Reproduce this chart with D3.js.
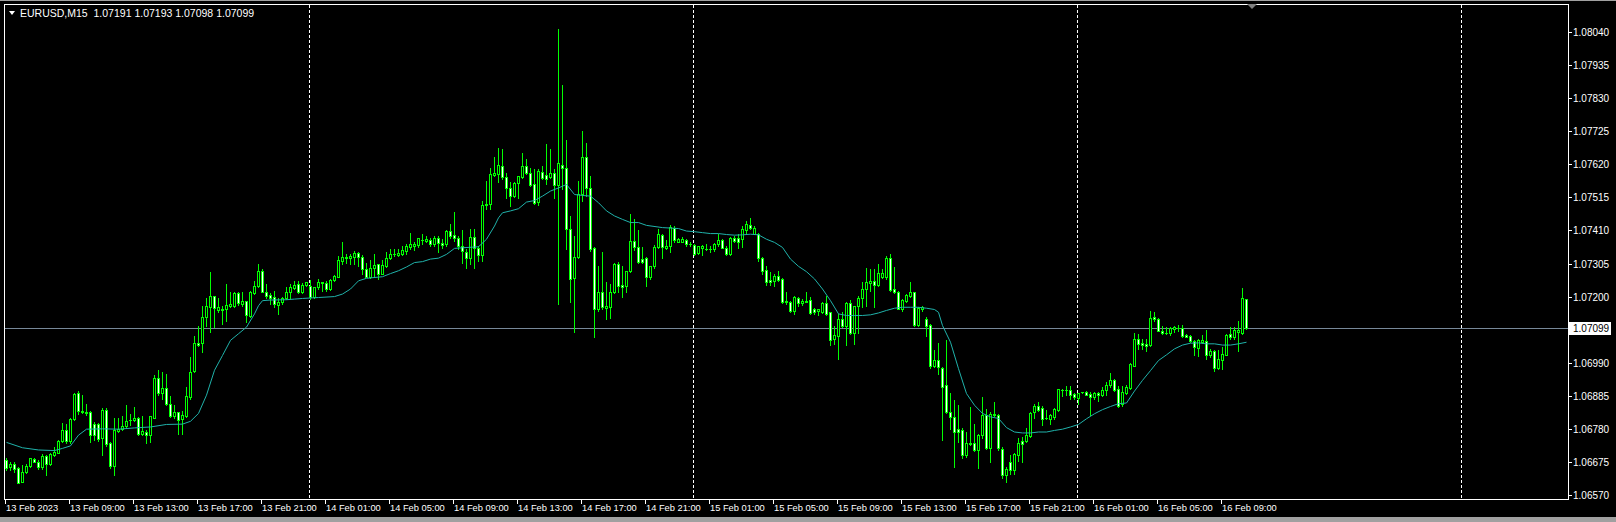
<!DOCTYPE html>
<html>
<head>
<meta charset="utf-8">
<script src="https://cdn.jsdelivr.net/npm/d3@7"></script>
<style>
  html, body { margin: 0; padding: 0; background: #000; overflow: hidden; }
  svg { display: block; }
  text { font-family: "Liberation Sans", Arial, sans-serif; font-size: 10px; fill: #fff; white-space: pre; }
</style>
</head>
<body>
<svg id="chart" width="1616" height="522"></svg>
<script>
// EURUSD M15, first visible bar 13 Feb 2023 05:00
const title = "EURUSD,M15  1.07191 1.07193 1.07098 1.07099";

const open = [1.06681,1.06658,1.06668,1.06657,1.06612,1.06644,1.06663,1.06685,1.06676,1.06660,1.06695,1.06668,1.06697,1.06704,1.06741,1.06777,1.06741,1.06812,1.06893,1.06837,
1.06832,1.06834,1.06795,1.06797,1.06750,1.06841,1.06734,1.06663,1.06773,1.06779,1.06789,1.06809,1.06809,1.06815,1.06763,1.06771,1.06760,1.06816,1.06943,1.06893,
1.06910,1.06859,1.06821,1.06832,1.06810,1.06821,1.06881,1.06963,1.07053,1.07052,1.07134,1.07166,1.07201,1.07158,1.07156,1.07159,1.07171,1.07171,1.07211,1.07178,
1.07185,1.07138,1.07212,1.07234,1.07280,1.07213,1.07204,1.07199,1.07174,1.07184,1.07197,1.07213,1.07227,1.07240,1.07213,1.07237,1.07234,1.07199,1.07229,1.07245,
1.07242,1.07224,1.07254,1.07263,1.07313,1.07326,1.07321,1.07326,1.07337,1.07327,1.07287,1.07263,1.07290,1.07302,1.07273,1.07297,1.07324,1.07334,1.07332,1.07336,
1.07345,1.07358,1.07361,1.07363,1.07381,1.07377,1.07379,1.07366,1.07387,1.07371,1.07366,1.07407,1.07395,1.07387,1.07361,1.07343,1.07322,1.07390,1.07355,1.07332,
1.07490,1.07493,1.07585,1.07590,1.07616,1.07580,1.07545,1.07519,1.07561,1.07580,1.07616,1.07593,1.07556,1.07500,1.07595,1.07585,1.07580,1.07591,1.07554,1.07619,
1.07609,1.07414,1.07258,1.07327,1.07527,1.07644,1.07545,1.07353,1.07161,1.07213,1.07165,1.07166,1.07215,1.07305,1.07237,1.07234,1.07280,1.07375,1.07356,1.07319,
1.07321,1.07261,1.07296,1.07358,1.07395,1.07354,1.07361,1.07419,1.07374,1.07374,1.07380,1.07367,1.07365,1.07337,1.07353,1.07351,1.07350,1.07350,1.07368,1.07380,
1.07355,1.07336,1.07386,1.07385,1.07382,1.07411,1.07428,1.07400,1.07400,1.07324,1.07284,1.07252,1.07250,1.07266,1.07256,1.07185,1.07184,1.07155,1.07196,1.07179,
1.07184,1.07190,1.07159,1.07154,1.07152,1.07179,1.07150,1.07064,1.07076,1.07129,1.07108,1.07179,1.07085,1.07169,1.07196,1.07224,1.07243,1.07248,1.07238,1.07261,
1.07261,1.07324,1.07224,1.07216,1.07161,1.07187,1.07203,1.07213,1.07111,1.07161,1.07129,1.07111,1.06979,1.06998,1.06973,1.06920,1.06834,1.06818,1.06781,1.06776,
1.06697,1.06732,1.06734,1.06713,1.06762,1.06823,1.06718,1.06823,1.06825,1.06715,1.06633,1.06675,1.06649,1.06696,1.06742,1.06742,1.06756,1.06832,1.06853,1.06847,
1.06815,1.06812,1.06818,1.06839,1.06903,1.06902,1.06904,1.06890,1.06878,1.06896,1.06897,1.06891,1.06881,1.06893,1.06886,1.06902,1.06918,1.06936,1.06906,1.06858,
1.06894,1.06910,1.06981,1.07064,1.07053,1.07050,1.07046,1.07136,1.07129,1.07092,1.07084,1.07085,1.07097,1.07100,1.07099,1.07078,1.07074,1.07060,1.07037,1.07055,
1.07060,1.07013,1.07026,1.06973,1.06999,1.07016,1.07081,1.07071,1.07086,1.07083,1.07191];

const high = [1.06686,1.06676,1.06674,1.06660,1.06665,1.06667,1.06688,1.06688,1.06682,1.06699,1.06697,1.06704,1.06723,1.06746,1.06798,1.06795,1.06815,1.06894,1.06899,1.06889,
1.06859,1.06836,1.06802,1.06800,1.06847,1.06846,1.06739,1.06816,1.06813,1.06821,1.06855,1.06828,1.06849,1.06817,1.06821,1.06775,1.06821,1.06950,1.06968,1.06960,
1.06955,1.06885,1.06855,1.06834,1.06836,1.06913,1.07008,1.07074,1.07108,1.07171,1.07195,1.07277,1.07203,1.07195,1.07171,1.07240,1.07214,1.07216,1.07216,1.07214,
1.07187,1.07218,1.07250,1.07303,1.07287,1.07240,1.07210,1.07218,1.07197,1.07200,1.07229,1.07240,1.07250,1.07250,1.07244,1.07247,1.07254,1.07231,1.07255,1.07247,
1.07250,1.07256,1.07269,1.07329,1.07372,1.07336,1.07334,1.07345,1.07343,1.07332,1.07308,1.07315,1.07334,1.07305,1.07315,1.07343,1.07350,1.07350,1.07350,1.07361,
1.07366,1.07401,1.07374,1.07387,1.07400,1.07392,1.07385,1.07392,1.07392,1.07382,1.07410,1.07431,1.07469,1.07392,1.07411,1.07350,1.07416,1.07414,1.07361,1.07503,
1.07566,1.07609,1.07642,1.07672,1.07667,1.07591,1.07564,1.07563,1.07584,1.07656,1.07637,1.07609,1.07606,1.07604,1.07614,1.07683,1.07667,1.07604,1.08049,1.07872,
1.07698,1.07456,1.07393,1.07567,1.07725,1.07686,1.07582,1.07356,1.07298,1.07343,1.07245,1.07240,1.07308,1.07310,1.07296,1.07282,1.07461,1.07445,1.07412,1.07356,
1.07327,1.07298,1.07365,1.07414,1.07398,1.07380,1.07426,1.07424,1.07386,1.07388,1.07384,1.07372,1.07367,1.07361,1.07365,1.07367,1.07361,1.07370,1.07398,1.07382,
1.07359,1.07389,1.07393,1.07400,1.07424,1.07440,1.07448,1.07424,1.07403,1.07327,1.07296,1.07277,1.07271,1.07281,1.07258,1.07213,1.07187,1.07203,1.07198,1.07192,
1.07213,1.07198,1.07163,1.07161,1.07182,1.07201,1.07152,1.07108,1.07145,1.07150,1.07182,1.07190,1.07171,1.07201,1.07245,1.07290,1.07289,1.07287,1.07303,1.07287,
1.07330,1.07335,1.07293,1.07219,1.07192,1.07208,1.07245,1.07216,1.07166,1.07171,1.07134,1.07113,1.07029,1.07053,1.06976,1.07061,1.06895,1.06871,1.06855,1.06783,
1.06771,1.06850,1.06797,1.06765,1.06881,1.06844,1.06834,1.06866,1.06828,1.06721,1.06659,1.06696,1.06702,1.06752,1.06754,1.06784,1.06833,1.06858,1.06865,1.06851,
1.06841,1.06828,1.06846,1.06908,1.06908,1.06915,1.06915,1.06895,1.06895,1.06897,1.06900,1.06896,1.06897,1.06897,1.06912,1.06928,1.06958,1.06938,1.06915,1.06917,
1.06918,1.06988,1.07083,1.07081,1.07065,1.07064,1.07153,1.07150,1.07132,1.07108,1.07102,1.07104,1.07108,1.07111,1.07111,1.07081,1.07079,1.07063,1.07065,1.07078,
1.07094,1.07034,1.07031,1.07031,1.07041,1.07081,1.07102,1.07104,1.07123,1.07227,1.07193];

const low = [1.06649,1.06649,1.06644,1.06607,1.06610,1.06639,1.06660,1.06674,1.06651,1.06653,1.06634,1.06665,1.06695,1.06702,1.06737,1.06734,1.06734,1.06809,1.06826,1.06829,
1.06823,1.06739,1.06744,1.06741,1.06697,1.06726,1.06655,1.06634,1.06769,1.06776,1.06783,1.06792,1.06806,1.06760,1.06762,1.06736,1.06739,1.06813,1.06887,1.06876,
1.06855,1.06818,1.06815,1.06763,1.06765,1.06818,1.06876,1.06960,1.07042,1.07024,1.07108,1.07089,1.07103,1.07150,1.07113,1.07124,1.07166,1.07168,1.07174,1.07171,
1.07119,1.07134,1.07208,1.07229,1.07213,1.07197,1.07176,1.07166,1.07145,1.07176,1.07192,1.07197,1.07223,1.07210,1.07210,1.07234,1.07192,1.07197,1.07224,1.07218,
1.07218,1.07220,1.07250,1.07261,1.07303,1.07308,1.07305,1.07303,1.07297,1.07271,1.07261,1.07258,1.07261,1.07255,1.07271,1.07294,1.07319,1.07329,1.07329,1.07332,
1.07334,1.07350,1.07347,1.07358,1.07366,1.07374,1.07361,1.07361,1.07340,1.07355,1.07361,1.07387,1.07377,1.07350,1.07308,1.07292,1.07305,1.07292,1.07313,1.07313,
1.07477,1.07477,1.07582,1.07564,1.07572,1.07514,1.07487,1.07517,1.07514,1.07577,1.07588,1.07551,1.07493,1.07490,1.07572,1.07556,1.07577,1.07514,1.07176,1.07540,
1.07350,1.07182,1.07087,1.07324,1.07503,1.07519,1.07345,1.07071,1.07155,1.07161,1.07129,1.07131,1.07211,1.07213,1.07198,1.07215,1.07277,1.07348,1.07306,1.07306,
1.07234,1.07256,1.07292,1.07353,1.07324,1.07350,1.07340,1.07372,1.07372,1.07372,1.07361,1.07361,1.07331,1.07335,1.07331,1.07348,1.07340,1.07345,1.07361,1.07353,
1.07331,1.07332,1.07372,1.07354,1.07356,1.07403,1.07414,1.07398,1.07314,1.07271,1.07237,1.07237,1.07235,1.07249,1.07180,1.07177,1.07152,1.07145,1.07171,1.07173,
1.07182,1.07145,1.07145,1.07140,1.07148,1.07142,1.07045,1.07050,1.07003,1.07103,1.07045,1.07082,1.07048,1.07085,1.07166,1.07171,1.07219,1.07166,1.07235,1.07258,
1.07256,1.07219,1.07211,1.07159,1.07155,1.07182,1.07198,1.07108,1.07108,1.07155,1.07076,1.06974,1.06976,1.06955,1.06744,1.06829,1.06781,1.06660,1.06739,1.06688,
1.06692,1.06728,1.06709,1.06657,1.06750,1.06716,1.06676,1.06821,1.06713,1.06623,1.06612,1.06638,1.06638,1.06678,1.06675,1.06738,1.06754,1.06815,1.06836,1.06791,
1.06810,1.06796,1.06812,1.06836,1.06883,1.06889,1.06876,1.06876,1.06860,1.06893,1.06886,1.06823,1.06876,1.06870,1.06883,1.06886,1.06912,1.06900,1.06849,1.06851,
1.06891,1.06907,1.06978,1.07034,1.07034,1.07028,1.07044,1.07123,1.07090,1.07081,1.07081,1.07079,1.07087,1.07092,1.07071,1.07071,1.07055,1.07016,1.07010,1.07052,
1.07002,1.07007,1.06965,1.06970,1.06970,1.07013,1.07065,1.07065,1.07028,1.07081,1.07098];

const close = [1.06657,1.06668,1.06653,1.06609,1.06644,1.06663,1.06686,1.06676,1.06660,1.06695,1.06668,1.06699,1.06707,1.06742,1.06777,1.06741,1.06812,1.06891,1.06836,1.06832,
1.06831,1.06760,1.06760,1.06749,1.06841,1.06732,1.06661,1.06775,1.06781,1.06790,1.06806,1.06808,1.06815,1.06763,1.06772,1.06762,1.06820,1.06943,1.06894,1.06910,
1.06859,1.06821,1.06832,1.06808,1.06824,1.06885,1.06960,1.07052,1.07047,1.07134,1.07171,1.07201,1.07164,1.07166,1.07161,1.07174,1.07177,1.07210,1.07179,1.07185,
1.07140,1.07214,1.07234,1.07280,1.07216,1.07203,1.07195,1.07176,1.07184,1.07197,1.07213,1.07231,1.07238,1.07213,1.07237,1.07245,1.07199,1.07229,1.07245,1.07244,
1.07224,1.07254,1.07265,1.07315,1.07327,1.07324,1.07328,1.07337,1.07326,1.07289,1.07263,1.07290,1.07300,1.07273,1.07300,1.07324,1.07334,1.07335,1.07339,1.07347,
1.07359,1.07368,1.07366,1.07385,1.07381,1.07382,1.07368,1.07387,1.07371,1.07363,1.07407,1.07392,1.07387,1.07361,1.07345,1.07324,1.07390,1.07355,1.07332,1.07490,
1.07495,1.07588,1.07593,1.07619,1.07580,1.07545,1.07519,1.07559,1.07582,1.07616,1.07593,1.07554,1.07496,1.07600,1.07575,1.07574,1.07591,1.07554,1.07623,1.07609,
1.07416,1.07256,1.07327,1.07527,1.07644,1.07545,1.07350,1.07161,1.07215,1.07166,1.07169,1.07216,1.07303,1.07234,1.07229,1.07280,1.07375,1.07356,1.07310,1.07310,
1.07261,1.07296,1.07356,1.07398,1.07356,1.07362,1.07422,1.07380,1.07382,1.07382,1.07366,1.07367,1.07334,1.07359,1.07360,1.07351,1.07350,1.07368,1.07379,1.07355,
1.07336,1.07385,1.07375,1.07374,1.07414,1.07430,1.07417,1.07419,1.07323,1.07282,1.07247,1.07247,1.07266,1.07252,1.07182,1.07182,1.07155,1.07198,1.07179,1.07187,
1.07187,1.07148,1.07150,1.07159,1.07179,1.07146,1.07061,1.07079,1.07129,1.07108,1.07179,1.07085,1.07169,1.07196,1.07224,1.07245,1.07248,1.07238,1.07274,1.07274,
1.07324,1.07222,1.07213,1.07161,1.07189,1.07205,1.07213,1.07111,1.07163,1.07166,1.07108,1.06979,1.06998,1.06976,1.06913,1.06834,1.06818,1.06769,1.06769,1.06697,
1.06736,1.06736,1.06713,1.06762,1.06823,1.06718,1.06828,1.06828,1.06718,1.06633,1.06654,1.06649,1.06700,1.06735,1.06733,1.06761,1.06830,1.06853,1.06841,1.06810,
1.06815,1.06825,1.06844,1.06906,1.06903,1.06902,1.06889,1.06880,1.06893,1.06896,1.06889,1.06881,1.06894,1.06886,1.06904,1.06920,1.06936,1.06904,1.06854,1.06898,
1.06912,1.06986,1.07065,1.07050,1.07046,1.07044,1.07132,1.07128,1.07092,1.07085,1.07084,1.07100,1.07104,1.07100,1.07076,1.07073,1.07060,1.07039,1.07062,1.07062,
1.07013,1.07026,1.06973,1.07002,1.07018,1.07078,1.07071,1.07094,1.07094,1.07195,1.07099];

// moving average, read at these bar positions
const maBar = [0,4,8,12,14,16,18,20,24,28,32,36,40,44,46,48,50,52,54,56,58,60,62,63,64,66,70,72,74,78,82,84,86,88,90,94,96,98,100,102,104,106,108,110,112,114,118,120,122,123,
124,126,128,130,132,134,136,138,140,142,144,146,148,150,152,154,156,158,160,164,168,170,172,174,176,178,180,182,184,186,188,190,192,194,196,198,200,202,204,206,208,
210,212,214,216,218,220,222,224,226,228,230,232,233,234,236,238,240,242,244,246,248,250,252,254,256,258,260,262,264,266,268,270,272,274,276,278,280,282,284,286,288,
290,292,294,296,298,300,302,304,306,308,310];
const maValue = [1.06737,1.06720,1.06713,1.06711,1.06718,1.06726,1.06760,1.06779,1.06780,1.06779,1.06783,1.06786,1.06794,1.06795,1.06804,1.06829,1.06887,1.06966,1.07013,1.07061,1.07082,1.07103,1.07145,1.07171,1.07187,1.07189,1.07190,1.07192,1.07194,1.07197,1.07200,1.07208,1.07224,1.07250,1.07258,1.07263,1.07273,1.07282,1.07294,1.07308,1.07311,1.07319,1.07322,1.07334,1.07353,1.07355,1.07358,1.07382,1.07424,1.07450,
1.07466,1.07472,1.07479,1.07500,1.07505,1.07519,1.07535,1.07545,1.07556,1.07524,1.07521,1.07519,1.07498,1.07472,1.07456,1.07445,1.07435,1.07435,1.07426,1.07419,1.07416,1.07408,1.07406,1.07403,1.07400,1.07400,1.07397,1.07395,1.07396,1.07398,1.07396,1.07382,1.07372,1.07356,1.07319,1.07296,1.07279,1.07256,1.07224,1.07187,1.07145,
1.07140,1.07140,1.07140,1.07142,1.07148,1.07156,1.07163,1.07166,1.07166,1.07166,1.07163,1.07159,1.07150,1.07108,1.07055,1.06971,1.06892,1.06855,1.06829,1.06818,1.06813,1.06784,1.06770,1.06767,1.06767,1.06770,1.06770,1.06775,1.06779,1.06786,1.06794,1.06812,1.06828,1.06841,1.06851,1.06860,1.06862,1.06900,1.06934,1.06965,1.06997,
1.07015,1.07034,1.07046,1.07052,1.07053,1.07050,1.07050,1.07046,1.07046,1.07050,1.07055];

const bidPrice = 1.07099;
const priceTicks = [1.08040,1.07935,1.07830,1.07725,1.07620,1.07515,1.07410,1.07305,1.07200,1.06990,1.06885,1.06780,1.06675,1.06570];
const timeTickBars = [0,16,32,48,64,80,96,112,128,144,160,176,192,208,224,240,256,272,288,304];
const timeTickLabels = ["13 Feb 2023","13 Feb 09:00","13 Feb 13:00","13 Feb 17:00","13 Feb 21:00","14 Feb 01:00","14 Feb 05:00","14 Feb 09:00","14 Feb 13:00","14 Feb 17:00",
  "14 Feb 21:00","15 Feb 01:00","15 Feb 05:00","15 Feb 09:00","15 Feb 13:00","15 Feb 17:00","15 Feb 21:00","16 Feb 01:00","16 Feb 05:00","16 Feb 09:00"];
const daySeparatorBars = [76,172,268,364];

const svg = d3.select("#chart");
const frame = { left: 4, top: 4, right: 1568, bottom: 499 };

// 4 px per bar
const x = d3.scaleLinear().domain([0, 1]).range([6.5, 10.5]);
const y = d3.scaleLinear().domain([1.06570, 1.08040]).range([495, 32]);
const py = v => Math.round(y(v));
const px = b => Math.round(x(b) - 0.5);   // pixel column of a bar centre

svg.append("rect").attr("width", 1616).attr("height", 522).attr("fill", "#000");

// window border
svg.append("rect").attr("x", 0).attr("y", 517).attr("width", 1616).attr("height", 5).attr("fill", "#a0a0a0");
svg.append("rect").attr("x", 0).attr("y", 0).attr("width", 1616).attr("height", 1).attr("fill", "#a0a0a0");

const plot = svg.append("g").attr("shape-rendering", "crispEdges");

// day separators
plot.selectAll("line.sep").data(daySeparatorBars).join("line")
  .attr("class", "sep")
  .attr("x1", d => px(d) - 0.5).attr("x2", d => px(d) - 0.5)
  .attr("y1", frame.top + 1).attr("y2", frame.bottom)
  .attr("stroke", "#fff").attr("stroke-dasharray", "3,2");

// bid line
plot.append("line")
  .attr("x1", frame.left).attr("x2", frame.right)
  .attr("y1", py(bidPrice) + 0.5).attr("y2", py(bidPrice) + 0.5)
  .attr("stroke", "#778899");

// moving average
const ma = maBar.map((b, i) => ({ b, v: maValue[i] }));
svg.append("path").datum(ma)
  .attr("fill", "none").attr("stroke", "#20b2aa").attr("stroke-width", 1)
  .attr("d", d3.line().x(d => x(d.b)).y(d => y(d.v)));

// candles
const bars = d3.range(open.length);
const bodyTop = i => py(Math.max(open[i], close[i]));
const bodyBot = i => py(Math.min(open[i], close[i]));
const cg = plot.append("g");
cg.selectAll("rect.wick").data(bars).join("rect")
  .attr("class", "wick")
  .attr("x", px).attr("width", 1)
  .attr("y", i => py(high[i])).attr("height", i => py(low[i]) - py(high[i]) + 1)
  .attr("fill", "#00ff00");
cg.selectAll("rect.body").data(bars).join("rect")
  .attr("class", "body")
  .attr("x", i => px(i) - 1).attr("width", 3)
  .attr("y", bodyTop).attr("height", i => bodyBot(i) - bodyTop(i) + 1)
  .attr("fill", "#00ff00");
cg.selectAll("rect.fill").data(bars.filter(i => bodyBot(i) - bodyTop(i) >= 2)).join("rect")
  .attr("class", "fill")
  .attr("x", px).attr("width", 1)
  .attr("y", i => bodyTop(i) + 1).attr("height", i => bodyBot(i) - bodyTop(i) - 1)
  .attr("fill", i => close[i] >= open[i] ? "#000" : "#fff");

// frame
plot.append("rect")
  .attr("x", frame.left + 0.5).attr("y", frame.top + 0.5)
  .attr("width", frame.right - frame.left).attr("height", frame.bottom - frame.top)
  .attr("fill", "none").attr("stroke", "#fff");

// price axis
const pa = svg.append("g");
pa.selectAll("line").data(priceTicks).join("line")
  .attr("shape-rendering", "crispEdges")
  .attr("x1", frame.right + 1).attr("x2", frame.right + 4)
  .attr("y1", d => py(d) + 0.5).attr("y2", d => py(d) + 0.5)
  .attr("stroke", "#fff");
pa.selectAll("text").data(priceTicks).join("text")
  .attr("x", frame.right + 5).attr("y", d => py(d) + 4)
  .text(d => d.toFixed(5));

// bid label
pa.append("rect").attr("x", frame.right + 1).attr("y", py(bidPrice) - 6)
  .attr("width", 42).attr("height", 13).attr("fill", "#fff");
pa.append("text").attr("x", frame.right + 5).attr("y", py(bidPrice) + 4)
  .style("fill", "#000").text(bidPrice.toFixed(5));

// time axis
const ta = svg.append("g");
ta.selectAll("line").data(timeTickBars).join("line")
  .attr("shape-rendering", "crispEdges")
  .attr("x1", d => px(d) - 0.5).attr("x2", d => px(d) - 0.5)
  .attr("y1", frame.bottom + 1).attr("y2", frame.bottom + 5)
  .attr("stroke", "#fff");
ta.selectAll("text").data(timeTickBars).join("text")
  .attr("x", d => px(d))
  .attr("y", frame.bottom + 12)
  .style("font-size", "9.3px")
  .text((d, i) => timeTickLabels[i]);

// title
svg.append("path").attr("d", "M9,11 L15,11 L12,15 Z").attr("fill", "#fff");
svg.append("text").attr("x", 20).attr("y", 17).style("font-size", "10.5px").text(title);

// chart shift marker
svg.append("path").attr("d", "M1247,4 L1257,4 L1252,9 Z").attr("fill", "#808080");
</script>
</body>
</html>
